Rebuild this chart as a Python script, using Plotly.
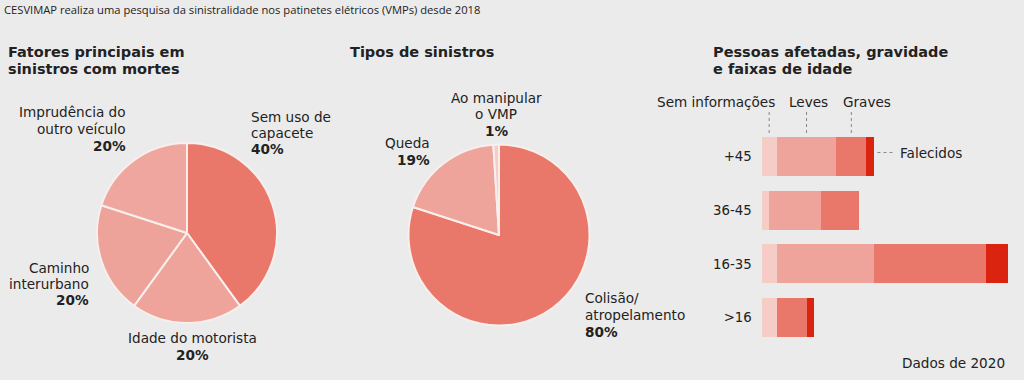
import plotly.graph_objects as go

# ---------------- data ----------------
title_text = "CESVIMAP realiza uma pesquisa da sinistralidade nos patinetes elétricos (VMPs) desde 2018"

fatores_labels = [["Sem uso de", "capacete"], ["Idade do motorista"], ["Caminho", "interurbano"], ["Imprudência do", "outro veículo"]]
fatores_values = [40, 20, 20, 20]

tipos_labels = [["Colisão/", "atropelamento"], ["Queda"], ["Ao manipular", "o VMP"]]
tipos_values = [80, 19, 1]

idade_cats = ["+45", "36-45", "16-35", ">16"]
sem_info = [2, 1, 2, 2]
leves = [8, 7, 13, 0]
graves = [4, 5, 15, 4]
falecidos = [1, 0, 3, 1]
series_names = ["Sem informações", "Leves", "Graves", "Falecidos"]

# ---------------- style ----------------
W, H = 1024, 380
BG = "#ebebeb"
DARK = "#e9776a"
LIGHT = "#eea39b"
LIGHTEST = "#f6cdc6"
RED = "#db2410"
TXT = "#222222"
FONT = "DejaVu Sans"
TFONT = "DejaVu Sans"
LS = 13.6  # label size
TS = 14.5  # section title size


def px(x):
    return x / W


def py(y):
    return 1 - y / H


fig = go.Figure()

# Left pie
cx, cy, r = 187, 233, 90
fig.add_trace(go.Pie(
    values=fatores_values, labels=[" ".join(l) for l in fatores_labels], sort=False,
    direction="clockwise", rotation=0,
    marker=dict(colors=[DARK, LIGHT, "#eda39a", "#efa69e"], line=dict(color="#f8efec", width=2)),
    textinfo="none", hoverinfo="label+percent",
    domain=dict(x=[px(cx - r), px(cx + r)], y=[py(cy + r), py(cy - r)]),
))

# Middle pie
cx2, cy2, r2 = 499, 235, 90.5
fig.add_trace(go.Pie(
    values=tipos_values, labels=[" ".join(l) for l in tipos_labels], sort=False,
    direction="clockwise", rotation=0,
    marker=dict(colors=[DARK, LIGHT, LIGHTEST], line=dict(color="#f8efec", width=2)),
    textinfo="none", hoverinfo="label+percent",
    domain=dict(x=[px(cx2 - r2), px(cx2 + r2)], y=[py(cy2 + r2), py(cy2 - r2)]),
))

# Stacked bars
for name, vals, col in zip(series_names, [sem_info, leves, graves, falecidos], [LIGHTEST, LIGHT, DARK, RED]):
    fig.add_trace(go.Bar(
        y=idade_cats, x=vals, orientation="h", name=name, marker=dict(color=col, line=dict(width=0)),
        xaxis="x", yaxis="y",
    ))

bar_left = 761.7
unit = 7.47
xmax = 35
fig.update_layout(
    width=W, height=H, margin=dict(l=0, r=0, t=0, b=0),
    paper_bgcolor=BG, plot_bgcolor=BG, showlegend=False,
    barmode="stack", bargap=0.27,
    font=dict(family=FONT, color=TXT, size=13),
    xaxis=dict(domain=[px(bar_left), px(bar_left + unit * xmax)], range=[0, xmax], visible=False, fixedrange=True),
    yaxis=dict(domain=[py(344.3), py(129.9)], autorange="reversed", showgrid=False, zeroline=False,
               showline=False, ticks="", ticklabelstandoff=9,
               tickfont=dict(family=FONT, size=13.3, color=TXT)),
)

ann = []


def add(text, x, y, xanchor="left", size=LS, family=FONT):
    ann.append(dict(text=text, x=px(x), y=py(y), xref="paper", yref="paper", xanchor=xanchor,
                    yanchor="middle", showarrow=False, borderpad=0,
                    font=dict(family=family, size=size, color=TXT)))


def block(lines, x, y_first, step, xanchor, size=LS, family=FONT):
    for i, t in enumerate(lines):
        add(t, x, y_first + i * step, xanchor=xanchor, size=size, family=family)


# titles
add(title_text, 3, 10, size=11.2, family="Open Sans")
block(["<b>Fatores principais em</b>", "<b>sinistros com mortes</b>"], 7, 51.7, 17.6, "left", size=TS, family=TFONT)
add("<b>Tipos de sinistros</b>", 349, 51.7, size=TS, family=TFONT)
block(["<b>Pessoas afetadas, gravidade</b>", "<b>e faixas de idade</b>"], 712, 51.7, 17.6, "left", size=TS, family=TFONT)


def lab(i, labels, values):
    return labels[i] + [f"<b>{values[i]}%</b>"]


# left pie labels
block(lab(3, fatores_labels, fatores_values), 127, 111.7, 17.2, "right")
block(lab(0, fatores_labels, fatores_values), 250, 117.3, 16, "left")
block(lab(2, fatores_labels, fatores_values), 90, 267.7, 16.2, "right")
block(lab(1, fatores_labels, fatores_values), 192, 338.3, 16.7, "center")

# middle pie labels
block(lab(2, tipos_labels, tipos_values), 496, 97.7, 16.7, "center")
block(lab(1, tipos_labels, tipos_values), 431, 143.3, 16.7, "right")
block(lab(0, tipos_labels, tipos_values), 584, 298.3, 16.7, "left")

# bar legend labels
add(series_names[0], 716, 102, xanchor="center")
add(series_names[1], 808, 102, xanchor="center")
add(series_names[2], 867, 102, xanchor="center")
add(series_names[3], 899, 152.5, xanchor="left")
add("Dados de 2020", 1006, 363, xanchor="right")

shapes = []
# leader lines at middle of +45 segments
cum = 0
for vals in [sem_info, leves, graves]:
    mid = cum + vals[0] / 2
    shapes.append(dict(type="line", xref="x", yref="paper", x0=mid, x1=mid, y0=py(112), y1=py(133),
                       line=dict(color="#888888", width=1, dash="dot")))
    cum += vals[0]
end45 = sem_info[0] + leves[0] + graves[0] + falecidos[0]
shapes.append(dict(type="line", xref="x", yref="paper", x0=end45 + 0.5, x1=end45 + 2.8, y0=py(152.5), y1=py(152.5),
                   line=dict(color="#888888", width=1, dash="dot")))

fig.update_layout(annotations=ann, shapes=shapes)
fig.write_html("out.html", config={"displayModeBar": False},
               post_script="document.body.style.margin='0';document.body.style.background='#ebebeb';")
